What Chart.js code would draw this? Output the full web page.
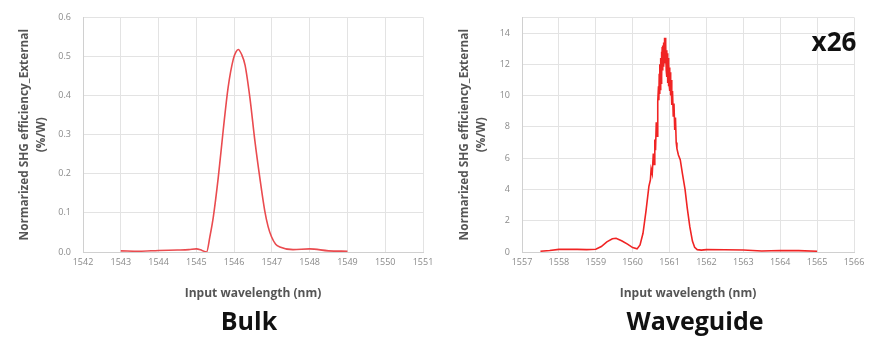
<!DOCTYPE html>
<html>
<head>
<meta charset="utf-8">
<script src="https://cdn.jsdelivr.net/npm/chart.js@4"></script>
<style>
  body { margin: 0; background: #fff; width: 871px; height: 338px; position: relative; overflow: hidden; font-family: "Open Sans", sans-serif; }
  .box { position: absolute; top: 0; height: 305px; }
  .label { position: absolute; font-weight: bold; font-size: 25px; color: #111; text-align: center; }
</style>
</head>
<body>
<div class="box" style="left:0;width:440px"><canvas id="bulk"></canvas></div>
<div class="box" style="left:440px;width:431px"><canvas id="wg"></canvas></div>
<div class="label" style="left:149px;width:200px;top:303px">Bulk</div>
<div class="label" style="left:595px;width:200px;top:303px">Waveguide</div>
<div class="label" style="left:799px;width:70px;top:23px;font-size:26px">x26</div>
<script>
const bulkWavelength = [1543, 1543.5, 1544, 1544.5, 1544.8, 1545, 1545.15, 1545.27, 1545.36, 1545.45, 1545.58, 1545.71, 1545.84, 1545.98, 1546.05, 1546.11, 1546.2, 1546.29, 1546.42, 1546.55, 1546.68, 1546.81, 1546.9, 1546.99, 1547.1, 1547.21, 1547.56, 1548, 1548.5, 1549];
const bulkEfficiency = [0.003, 0.002, 0.004, 0.005, 0.006, 0.008, 0.004, 0.0, 0.04, 0.09, 0.19, 0.31, 0.42, 0.494, 0.512, 0.518, 0.505, 0.478, 0.393, 0.284, 0.19, 0.106, 0.065, 0.039, 0.02, 0.013, 0.006, 0.008, 0.003, 0.002];

const wgWavelength = [1557.5, 1557.75, 1558, 1558.25, 1558.5, 1558.75, 1559, 1559.15, 1559.3, 1559.45, 1559.55, 1559.7, 1559.86, 1560.0, 1560.12, 1560.2, 1560.28, 1560.36, 1560.44, 1560.48, 1560.5, 1560.53,
  1560.56, 1560.58, 1560.60, 1560.62, 1560.64, 1560.66, 1560.68, 1560.70, 1560.71, 1560.72, 1560.73, 1560.74, 1560.75, 1560.76, 1560.77, 1560.78, 1560.79, 1560.80,
  1560.81, 1560.82, 1560.83, 1560.84, 1560.85, 1560.86, 1560.87, 1560.88, 1560.89, 1560.90, 1560.91, 1560.92, 1560.93, 1560.94, 1560.95, 1560.96, 1560.97, 1560.98,
  1560.99, 1561.00, 1561.01, 1561.02, 1561.03, 1561.04, 1561.06, 1561.08, 1561.10, 1561.12, 1561.14, 1561.16, 1561.18, 1561.20, 1561.24, 1561.29, 1561.35, 1561.42,
  1561.48, 1561.55, 1561.62, 1561.68, 1561.75, 1561.86, 1562, 1562.5, 1563, 1563.5, 1564, 1564.5, 1565];
const wgEfficiency = [0.05, 0.1, 0.17, 0.18, 0.17, 0.15, 0.18, 0.35, 0.65, 0.85, 0.88, 0.72, 0.5, 0.28, 0.2, 0.45, 1.2, 2.6, 4.2, 4.6, 5.3, 5.0,
  6.3, 5.6, 7.2, 6.5, 8.3, 7.4, 9.6, 10.6, 9.7, 11.4, 10.1, 12.0, 10.4, 12.4, 10.8, 12.8, 11.2, 13.1,
  11.6, 13.2, 11.9, 13.4, 12.1, 13.7, 12.4, 13.7, 12.1, 13.3, 11.6, 12.9, 11.2, 12.7, 10.8, 12.4, 10.6, 12.1,
  10.7, 11.8, 10.3, 11.5, 10.0, 11.0, 9.4, 10.3, 8.7, 9.5, 7.8, 8.6, 7.0, 6.6, 6.2, 5.9, 5.0, 4.0,
  2.8, 1.6, 0.7, 0.3, 0.15, 0.12, 0.15, 0.14, 0.13, 0.06, 0.1, 0.09, 0.05];

const bulkXTicks = [1542, 1543, 1544, 1545, 1546, 1547, 1548, 1549, 1550, 1551];
const bulkYTicks = [0.0, 0.1, 0.2, 0.3, 0.4, 0.5, 0.6];
const wgXTicks = [1557, 1558, 1559, 1560, 1561, 1562, 1563, 1564, 1565, 1566];
const wgYTicks = [0, 2, 4, 6, 8, 10, 12, 14, 15];

const yTitle = ['Normarized SHG efficiency_External', '(%/W)'];
const xTitle = 'Input wavelength (nm)';

const makeChart = (id, xs, ys, xTicks, yTicks, yMax, yFmt, axisWidth, padTop, color, width, smooth) => {
  const ctx = document.getElementById(id).getContext('2d');
  return new Chart(ctx, {
    type: 'line',
    data: {
      datasets: [{
        data: xs.map((x, i) => ({ x: x, y: ys[i] })),
        borderColor: color,
        borderWidth: width,
        pointRadius: 0,
        cubicInterpolationMode: smooth ? 'monotone' : 'default',
        tension: 0,
        fill: false
      }]
    },
    options: {
      responsive: true,
      maintainAspectRatio: false,
      animation: false,
      layout: { padding: { top: padTop, right: 17, left: 0, bottom: 0 } },
      plugins: { legend: { display: false }, tooltip: { enabled: false } },
      scales: {
        x: {
          type: 'linear',
          min: xTicks[0],
          max: xTicks[xTicks.length - 1],
          afterBuildTicks: s => { s.ticks = xTicks.map(v => ({ value: v })); },
          afterFit: s => { s.height = 53; s.paddingLeft = 0; s.paddingRight = 0; },
          grid: { color: '#e3e3e3', drawTicks: false },
          border: { color: '#d0d0d0' },
          ticks: { color: '#8a8a8a', font: { size: 9, family: 'Open Sans' }, padding: 5, maxRotation: 0, autoSkip: false, callback: v => String(v) },
          title: { display: true, text: xTitle, color: '#555', font: { size: 12, weight: 'bold', family: 'Open Sans' }, padding: { top: 7 } }
        },
        y: {
          min: 0,
          max: yMax,
          afterBuildTicks: s => { s.ticks = yTicks.map(v => ({ value: v })); },
          afterFit: s => { s.width = axisWidth; },
          grid: { color: '#e3e3e3', drawTicks: false },
          border: { color: '#d0d0d0' },
          ticks: { color: '#8a8a8a', font: { size: 9, family: 'Open Sans' }, padding: 12, callback: yFmt },
          title: { display: true, text: yTitle, color: '#555', font: { size: 11.8, weight: 'bold', family: 'Open Sans', lineHeight: 1.45 }, padding: { top: 16, bottom: 0 } }
        }
      }
    }
  });
};

makeChart('bulk', bulkWavelength, bulkEfficiency, bulkXTicks, bulkYTicks, 0.6, v => v.toFixed(1), 83, 15, '#ea4b4f', 1.6, true);
makeChart('wg', wgWavelength, wgEfficiency, wgXTicks, wgYTicks, 15, v => v === 15 ? '' : v, 82, 16, '#f02424', 1.6, false);
</script>
</body>
</html>
